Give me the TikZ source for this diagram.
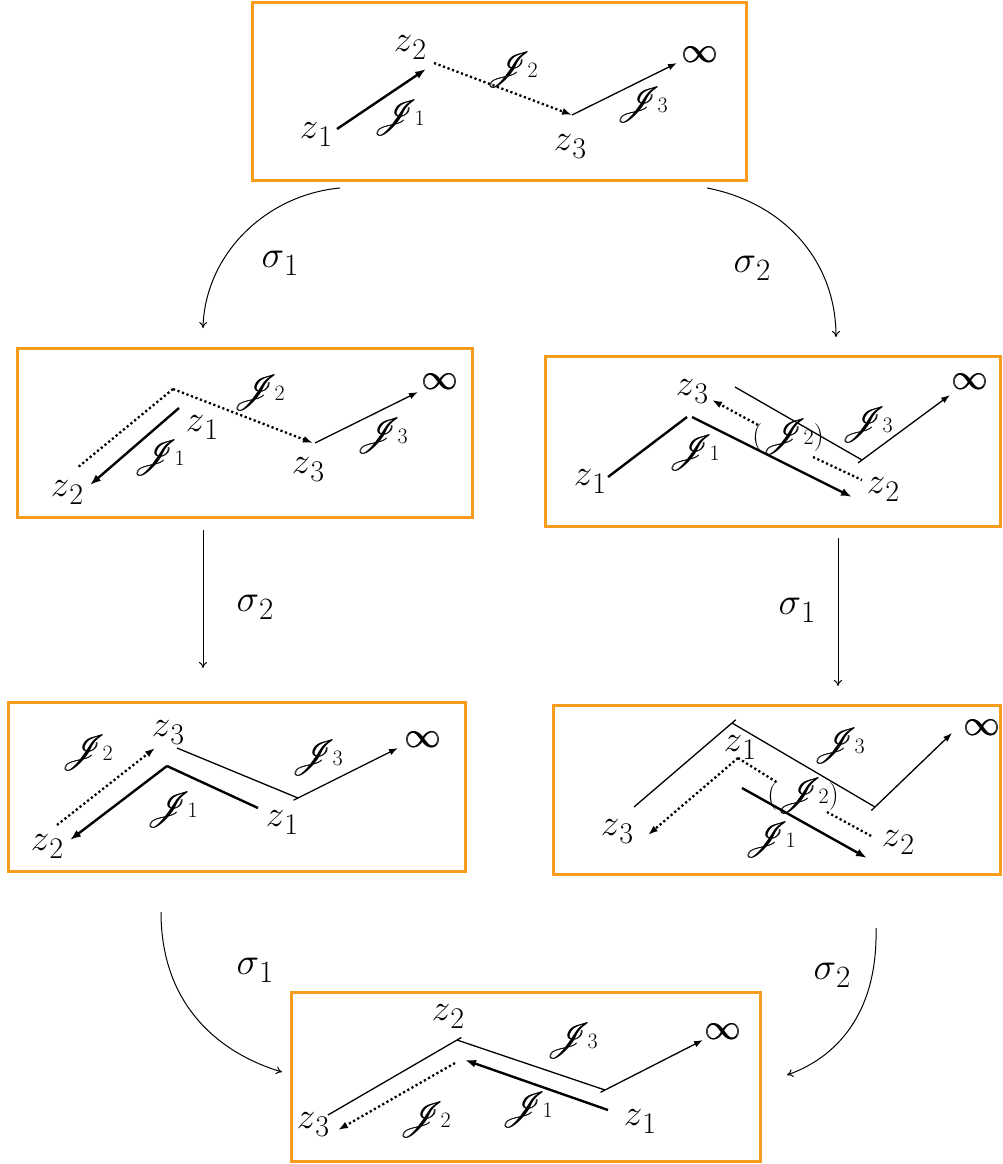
\documentclass[tikz,border=0pt]{standalone}
\usepackage{fix-cm}
\usetikzlibrary{arrows.meta}
\DeclareFontFamily{U}{rsfs}{\skewchar\font127 }
\DeclareFontShape{U}{rsfs}{m}{n}{<-> rsfs10}{}
\definecolor{boxorange}{RGB}{248,156,28}
\newcommand{\zl}[1]{{\fontsize{37}{37}\selectfont$z$}\raisebox{-8pt}{\fontsize{30}{30}\selectfont #1}}
\newcommand{\sigl}[1]{{\fontsize{38}{38}\selectfont$\sigma$}\raisebox{-8pt}{\fontsize{31}{31}\selectfont #1}}
\newcommand{\Jl}[1]{{\fontsize{36}{36}\usefont{U}{rsfs}{m}{n}\rlap{J}\kern0.7pt J}\hspace{3pt}{\fontsize{22}{22}\selectfont #1}}
\newcommand{\Jp}[1]{{\fontsize{28}{28}\selectfont(}\Jl{#1}{\fontsize{28}{28}\selectfont)}}
\newcommand{\inft}{{\fontsize{36}{36}\selectfont\rlap{$\infty$}\kern0.9pt$\infty$}}
\tikzset{
  box/.style={draw=boxorange, line width=3pt, inner sep=0pt},
  thickarr/.style={line width=2.4pt, -{Latex[length=11pt,width=8pt]}},
  thickln/.style={line width=2.4pt},
  thinarr/.style={line width=1.3pt, -{Latex[length=9pt,width=6.5pt]}},
  thinln/.style={line width=1.3pt},
  dotarr/.style={line width=2.3pt, dash pattern=on 2.2pt off 2.6pt, -{Latex[length=10pt,width=7pt]}},
  dotln/.style={line width=2.3pt, dash pattern=on 2.2pt off 2.6pt},
  maparr/.style={line width=1pt, -{To[length=6pt,width=8pt]}},
  lbl/.style={inner sep=0pt},
}
\begin{document}
\begin{tikzpicture}[x=1pt,y=-1pt]
\useasboundingbox (0,0) rectangle (1002,1164);
% boxes
\node[box, minimum width=494pt, minimum height=177pt] (B0) at (499,91.5) {};
\node[box, minimum width=455pt, minimum height=169pt] (BL1) at (244.5,432.5) {};
\node[box, minimum width=455pt, minimum height=170pt] (BR1) at (772.5,441) {};
\node[box, minimum width=457pt, minimum height=169pt] (BL2) at (236.5,786.5) {};
\node[box, minimum width=447pt, minimum height=169pt] (BR2) at (776.5,789.5) {};
\node[box, minimum width=469pt, minimum height=169pt] (BB) at (525.5,1076.5) {};

% ---------- top box
\coordinate (T1) at (337,129); \coordinate (T2) at (426,69);
\coordinate (T3) at (434,63);  \coordinate (T4) at (572,115);
\coordinate (T6) at (677,63);
\draw[thickarr] (T1) -- (T2);
\draw[dotarr] (T3) -- (T4);
\draw[thinarr] (T4) -- (T6);
\node[lbl] (tz1) at (316,135) {\zl{1}};
\node[lbl] (tz2) at (410,48) {\zl{2}};
\node[lbl] (tz3) at (570,147) {\zl{3}};
\node[lbl] (tj1) at (399,118) {\Jl{1}};
\node[lbl] (tj2) at (512,70) {\Jl{2}};
\node[lbl] (tj3) at (642,105) {\Jl{3}};
\node[lbl] (tinf) at (700,55) {\inft};

% ---------- middle left
\coordinate (L1) at (173,389); \coordinate (L2) at (313,443);
\coordinate (L3) at (77,468);
\coordinate (L4) at (179,408); \coordinate (L5) at (90,485);
\coordinate (L6) at (315,443); \coordinate (L7) at (418,392);
\draw[dotarr] (L1) -- (L2);
\draw[dotln] (L1) -- (L3);
\draw[thickarr] (L4) -- (L5);
\draw[thinarr] (L6) -- (L7);
\node[lbl] (lz1) at (202,428) {\zl{1}};
\node[lbl] (lz2) at (67,493) {\zl{2}};
\node[lbl] (lz3) at (308,470) {\zl{3}};
\node[lbl] (lj1) at (159,458) {\Jl{1}};
\node[lbl] (lj2) at (259,393) {\Jl{2}};
\node[lbl] (lj3) at (382,436) {\Jl{3}};
\node[lbl] (linf) at (440,382) {\inft};

% ---------- middle right
\coordinate (R1) at (608,477); \coordinate (R2) at (687,417);
\coordinate (R3) at (692,417); \coordinate (R4) at (852,497);
\coordinate (R5) at (758,425); \coordinate (R6) at (712,400);
\coordinate (R7) at (813,457); \coordinate (R8) at (862,480);
\coordinate (R9) at (735,387); \coordinate (R10) at (862,460);
\coordinate (R11) at (950,395);
\draw[thickln] (R1) -- (R2);
\draw[thickarr] (R3) -- (R4);
\draw[dotarr] (R5) -- (R6);
\draw[dotln] (R7) -- (R8);
\draw[thinln] (R9) -- (R10);
\draw[thinarr, shorten <=-5pt] (R10) -- (R11);
\node[lbl] (rz1) at (590,482) {\zl{1}};
\node[lbl] (rz3) at (692,392) {\zl{3}};
\node[lbl] (rz2) at (883,490) {\zl{2}};
\node[lbl] (rj1) at (694,453) {\Jl{1}};
\node[lbl] (rj2) at (788,437) {\Jp{2}};
\node[lbl] (rj3) at (867,425) {\Jl{3}};
\node[lbl] (rinf) at (970,382) {\inft};

% ---------- lower left
\coordinate (P1) at (57,825); \coordinate (P2) at (155,748);
\coordinate (P3) at (167,766); \coordinate (P4) at (258,808);
\coordinate (P5) at (70,840);
\coordinate (P6) at (177,748); \coordinate (P7) at (298,798);
\coordinate (P8) at (398,748);
\draw[dotarr] (P1) -- (P2);
\draw[thickln] (P3) -- (P4);
\draw[thickarr] (P3) -- (P5);
\draw[thinln] (P6) -- (P7);
\draw[thinarr, shorten <=-5pt] (P7) -- (P8);
\node[lbl] (pz3) at (168,733) {\zl{3}};
\node[lbl] (pz2) at (47,847) {\zl{2}};
\node[lbl] (pz1) at (282,823) {\zl{1}};
\node[lbl] (pj2) at (87,753) {\Jl{2}};
\node[lbl] (pj1) at (172,810) {\Jl{1}};
\node[lbl] (pj3) at (317,758) {\Jl{3}};
\node[lbl] (pinf) at (423,740) {\inft};

% ---------- lower right
\coordinate (Q1) at (634,807); \coordinate (Q2) at (732,723);
\coordinate (Q3) at (875,807); \coordinate (Q4) at (952,733);
\coordinate (Q5) at (738,758); \coordinate (Q6) at (648,835);
\coordinate (Q7) at (778,783); \coordinate (Q8) at (827,812);
\coordinate (Q9) at (873,837);
\coordinate (Q10) at (742,788); \coordinate (Q11) at (867,858);
\draw[thinln, shorten >=-5pt] (Q1) -- (Q2);
\draw[thinln] (Q2) -- (Q3);
\draw[thinarr, shorten <=-5pt] (Q3) -- (Q4);
\draw[dotarr] (Q5) -- (Q6);
\draw[dotln] (Q5) -- (Q7);
\draw[dotln] (Q8) -- (Q9);
\draw[thickarr] (Q10) -- (Q11);
\node[lbl] (qz1) at (740,748) {\zl{1}};
\node[lbl] (qz3) at (617,832) {\zl{3}};
\node[lbl] (qz2) at (898,843) {\zl{2}};
\node[lbl] (qj3) at (839,746) {\Jl{3}};
\node[lbl] (qj2) at (803,796) {\Jp{2}};
\node[lbl] (qj1) at (770,840) {\Jl{1}};
\node[lbl] (qinf) at (982,728) {\inft};

% ---------- bottom
\coordinate (S1) at (328,1115); \coordinate (S2) at (457,1040);
\coordinate (S3) at (605,1090); \coordinate (S4) at (703,1040);
\coordinate (S5) at (455,1063); \coordinate (S6) at (338,1130);
\coordinate (S7) at (608,1110); \coordinate (S8) at (465,1060);
\draw[thinln, shorten >=-5pt] (S1) -- (S2);
\draw[thinln] (S2) -- (S3);
\draw[thinarr, shorten <=-5pt] (S3) -- (S4);
\draw[dotarr] (S5) -- (S6);
\draw[thickarr] (S7) -- (S8);
\node[lbl] (sz2) at (448,1017) {\zl{2}};
\node[lbl] (sz3) at (313,1125) {\zl{3}};
\node[lbl] (sz1) at (640,1122) {\zl{1}};
\node[lbl] (sj3) at (572,1041) {\Jl{3}};
\node[lbl] (sj1) at (527,1110) {\Jl{1}};
\node[lbl] (sj2) at (425,1120) {\Jl{2}};
\node[lbl] (sinf) at (723,1032) {\inft};

% ---------- maps between boxes
\coordinate (M1) at (340,188); \coordinate (M2) at (203,328);
\coordinate (M3) at (707,188); \coordinate (M4) at (836,337);
\coordinate (M5) at (203,530); \coordinate (M6) at (203,668);
\coordinate (M7) at (838,538); \coordinate (M8) at (838,686);
\coordinate (M9) at (161,912); \coordinate (M10) at (282,1072);
\coordinate (M11) at (876,928); \coordinate (M12) at (787,1075);
\draw[maparr] (M1) .. controls (265,195) and (205,255) .. (M2);
\draw[maparr] (M3) .. controls (785,203) and (836,262) .. (M4);
\draw[maparr] (M5) -- (M6);
\draw[maparr] (M7) -- (M8);
\draw[maparr] (M9) .. controls (161,1010) and (225,1055) .. (M10);
\draw[maparr] (M11) .. controls (878,1015) and (835,1058) .. (M12);
\node[lbl] (m1) at (280,263) {\sigl{1}};
\node[lbl] (m2) at (752,268) {\sigl{2}};
\node[lbl] (m3) at (255,607) {\sigl{2}};
\node[lbl] (m4) at (797,610) {\sigl{1}};
\node[lbl] (m5) at (255,970) {\sigl{1}};
\node[lbl] (m6) at (832,975) {\sigl{2}};
\end{tikzpicture}
\end{document}
